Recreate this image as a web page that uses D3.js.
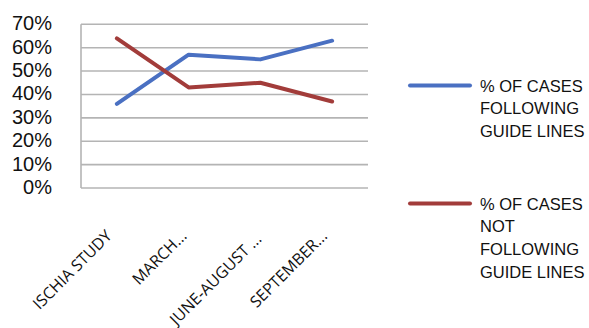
<!DOCTYPE html>
<html>
<head>
<meta charset="utf-8">
<script src="https://cdn.jsdelivr.net/npm/d3@7"></script>
<style>
  html, body { margin: 0; padding: 0; background: #fff; }
  svg { display: block; }
  text { font-family: "Liberation Sans", Arial, sans-serif; fill: #111; }
  .xlab { font-family: "Open Sans", "Noto Sans", sans-serif; }
</style>
</head>
<body>
<svg id="chart" width="589" height="328"></svg>
<script>
// Periods compared
const categories = ["ISCHIA STUDY", "MARCH...", "JUNE-AUGUST ...", "SEPTEMBER..."];
// Share of cases (%)
const following = [36, 57, 55, 63];
const notFollowing = [64, 43, 45, 37];
const yTicks = [0, 10, 20, 30, 40, 50, 60, 70];
const seriesNames = [
  ["% OF CASES", "FOLLOWING", "GUIDE LINES"],
  ["% OF CASES", "NOT", "FOLLOWING", "GUIDE LINES"]
];
const colors = ["#4a70c2", "#a23c3a"];

const svg = d3.select("#chart");
const plot = { left: 81, right: 368, top: 24.3, bottom: 188 };

const x = d3.scaleBand().domain(categories).range([plot.left, plot.right]);
const y = d3.scaleLinear().domain([0, 70]).range([plot.bottom, plot.top]);

// horizontal gridlines
svg.append("g").selectAll("line").data(yTicks).join("line")
  .attr("x1", plot.left).attr("x2", plot.right)
  .attr("y1", d => y(d)).attr("y2", d => y(d))
  .attr("stroke", "#b4b4b4").attr("stroke-width", 1.6);

// left axis line
svg.append("line")
  .attr("x1", plot.left).attr("x2", plot.left)
  .attr("y1", plot.top).attr("y2", plot.bottom)
  .attr("stroke", "#b4b4b4").attr("stroke-width", 1.6);

// y tick labels
svg.append("g").selectAll("text").data(yTicks).join("text")
  .attr("x", 52).attr("y", d => y(d) - 1)
  .attr("text-anchor", "end").attr("dominant-baseline", "central")
  .style("font-size", "20px")
  .text(d => d + "%");

// x category labels, rotated
const labelShift = [[-4, 237], [-1, 237], [2, 240], [-4, 237]];
svg.append("g").selectAll("text").data(categories).join("text")
  .attr("class", "xlab")
  .attr("transform", (d, i) => `translate(${x(d) + x.bandwidth() / 2 + labelShift[i][0]},${labelShift[i][1]}) rotate(-45)`)
  .attr("text-anchor", "end")
  .style("font-size", "16px")
  .text(d => d);

// series lines
const line = d3.line()
  .x((d, i) => x(categories[i]) + x.bandwidth() / 2)
  .y(d => y(d));

[following, notFollowing].forEach((vals, k) => {
  svg.append("path")
    .datum(vals)
    .attr("d", line)
    .attr("fill", "none")
    .attr("stroke", colors[k])
    .attr("stroke-width", 4)
    .attr("stroke-linejoin", "round")
    .attr("stroke-linecap", "round");
});

// legend
const legendTop = [85.5, 203.5];
seriesNames.forEach((lines, k) => {
  const g = svg.append("g");
  g.append("line")
    .attr("x1", 410).attr("x2", 470)
    .attr("y1", legendTop[k]).attr("y2", legendTop[k])
    .attr("stroke", colors[k]).attr("stroke-width", 4)
    .attr("stroke-linecap", "round");
  g.selectAll("text").data(lines).join("text")
    .attr("x", 480)
    .attr("y", (d, i) => legendTop[k] + i * 22.8)
    .attr("dominant-baseline", "central")
    .style("font-size", "16.5px")
    .text(d => d);
});
</script>
</body>
</html>
